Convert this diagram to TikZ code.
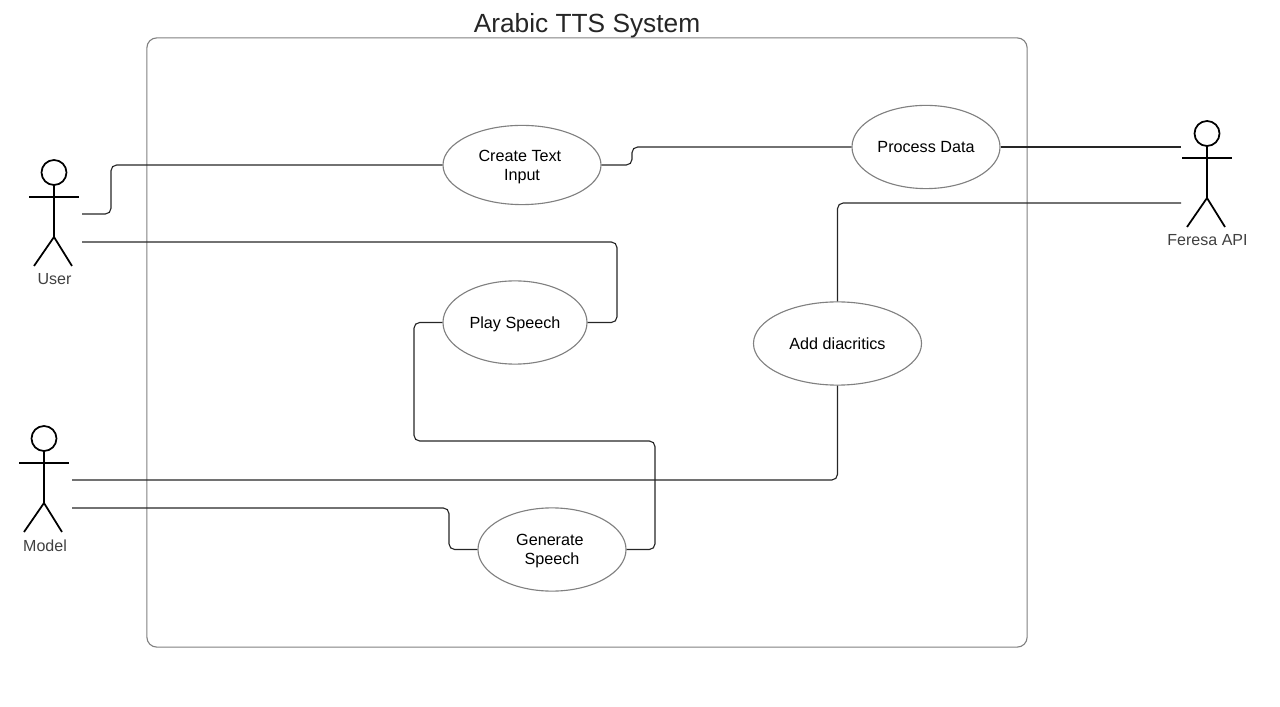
\documentclass[tikz,border=0pt]{standalone}
\usepackage{fontspec}
\setmainfont{Liberation Sans}
\usetikzlibrary{shapes.geometric}
\tikzset{
  usecase/.style={draw=black!50,line width=.8pt,ellipse,inner sep=0pt,align=center,text depth=0pt,font=\fontsize{11.5}{13.6}\selectfont},
  link/.style={draw=black!85,line width=.8pt,rounded corners=4pt},
  actorlabel/.style={text=black!75,inner sep=0pt,font=\fontsize{11.4}{13.6}\selectfont},
  pics/actor/.style={code={
    \draw[line width=1.25pt] (0,-12.5) circle (12.5);
    \draw[line width=1.25pt] (0,0) -- (0,52);
    \draw[line width=1.25pt] (-25,12) -- (25,12);
    \draw[line width=1.25pt] (-20,81) -- (0,52) -- (18,81);
  }}
}
\begin{document}
\begin{tikzpicture}[x=.025cm,y=-.025cm]
\useasboundingbox (0,0) rectangle (1280,707);
% -- system box
\node[draw=black!50,line width=.8pt,rounded corners=7pt,minimum width=22cm,minimum height=15.225cm,inner sep=0pt] (system) at (587,342.5) {};
\node[inner sep=0pt,text=black!85,font=\fontsize{18.7}{22}\selectfont] (title) at (587,26) {Arabic TTS System};
% -- use cases
\node[usecase,minimum width=3.95cm,minimum height=1.98cm] (create) at (522,165) {Create Text\kern3pt\\Input};
\node[usecase,minimum width=3.7cm,minimum height=2.08cm] (process) at (926,147) {Process Data};
\node[usecase,minimum width=3.6cm,minimum height=2.08cm] (play) at (515,322.5) {Play Speech};
\node[usecase,minimum width=4.2cm,minimum height=2.08cm] (diacritics) at (837.5,343.5) {Add diacritics};
\node[usecase,minimum width=3.7cm,minimum height=2.08cm] (generate) at (552,549.5) {Generate\kern3pt\\Speech};
% -- actors
\pic at (54,185) {actor};
\pic at (44,451) {actor};
\pic at (1207,146) {actor};
\node[actorlabel] (user) at (54.5,279) {User};
\node[actorlabel] (model) at (45,545.5) {Model};
\node[actorlabel] (feresa) at (1207.5,240) {Feresa API};
% -- free ends
\coordinate (u1) at (82,214);
\coordinate (u2) at (82,242);
\coordinate (m1) at (72,480);
\coordinate (m2) at (72,508);
\coordinate (f1) at (1181,147);
\coordinate (f2) at (1181,203);
% -- draw lines
\draw[link] (u1) -- (111,214) -- (111,165) -- (create.west);
\draw[link] (create.east) -- (632,165) -- (632,147) -- (process.west);
\draw[link] (process.east) -- (f1);
\draw[link] (u2) -- (617,242) -- (617,322.5) -- (play.east);
\draw[link] (play.west) -- (414,322.5) -- (414,441) -- (655,441) -- (655,549.5) -- (generate.east);
\draw[link] (m1) -- (837.5,480) -- (diacritics.south);
\draw[link] (m2) -- (449,508) -- (449,549.5) -- (generate.west);
\draw[link] (diacritics.north) -- (837.5,203) -- (f2);
\end{tikzpicture}
\end{document}
